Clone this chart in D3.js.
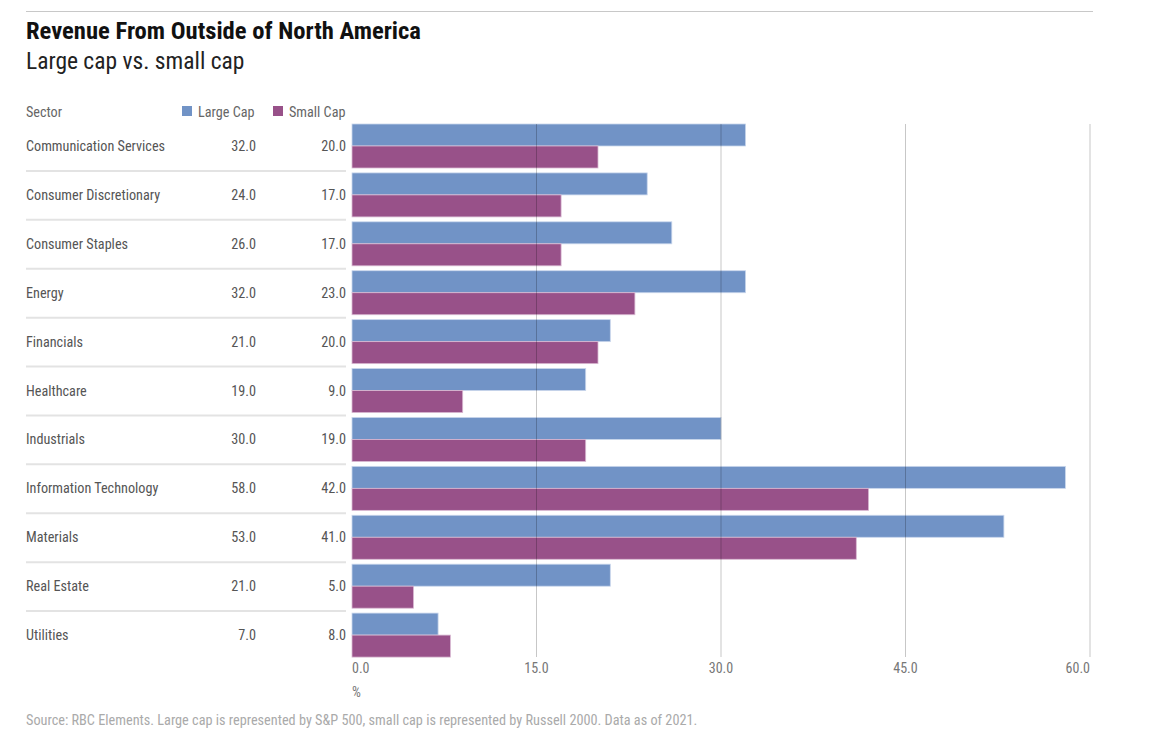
<!DOCTYPE html>
<html><head><meta charset="utf-8">
<script src="https://cdn.jsdelivr.net/npm/d3@7"></script>
<style>
body{margin:0;background:#fff;}
text{font-family:"Liberation Sans Narrow","Roboto Condensed","DejaVu Sans Condensed",sans-serif;}
</style></head>
<body><svg id="c" width="1157" height="735"></svg>
<script>
const categories = ["Communication Services","Consumer Discretionary","Consumer Staples","Energy","Financials","Healthcare","Industrials","Information Technology","Materials","Real Estate","Utilities"];
const largeCap = [32,24,26,32,21,19,30,58,53,21,7];
const smallCap = [20,17,17,23,20,9,19,42,41,5,8];
const xTicks = [0,15,30,45,60];
const seriesNames = ["Large Cap","Small Cap"];
const colors = ["#7193c6","#985189"];

const svg = d3.select("#c");
const x = d3.scaleLinear().domain([0,60]).range([352,1090]);
const y = d3.scaleBand().domain(categories).range([122,660]).padding(0);
const fmt = d3.format(".1f");

svg.append("line").attr("x1",26).attr("x2",1093).attr("y1",11.5).attr("y2",11.5).attr("stroke","#c8c8c8").attr("stroke-width",1);
svg.append("text").attr("x",26).attr("y",39).attr("font-size",24.6).attr("font-weight","bold").attr("fill","#111").text("Revenue From Outside of North America");
svg.append("text").attr("x",26).attr("y",69).attr("font-size",23.5).attr("fill","#222").text("Large cap vs. small cap");

// headers
svg.append("text").attr("x",26).attr("y",117).attr("font-size",14.2).attr("fill","#666").text("Sector");
svg.append("rect").attr("x",182).attr("y",106).attr("width",10).attr("height",10).attr("fill",colors[0]);
svg.append("text").attr("x",198).attr("y",117).attr("font-size",14.2).attr("fill","#666").text(seriesNames[0]);
svg.append("rect").attr("x",273).attr("y",106).attr("width",10).attr("height",10).attr("fill",colors[1]);
svg.append("text").attr("x",289).attr("y",117).attr("font-size",14.2).attr("fill","#666").text(seriesNames[1]);

const bh = 22;
const rows = svg.append("g").selectAll("g").data(categories).join("g");
rows.each(function(c,i){
  const g = d3.select(this);
  const top = y(c)+2;
  g.append("rect").attr("x",x(0)).attr("y",top).attr("width",x(largeCap[i])-x(0)).attr("height",bh).attr("fill",colors[0]).attr("stroke","#c9d6ec").attr("stroke-width",0.8);
  g.append("rect").attr("x",x(0)).attr("y",top+bh).attr("width",x(smallCap[i])-x(0)).attr("height",bh).attr("fill",colors[1]).attr("stroke","#d9b9d2").attr("stroke-width",0.8);
  const ty = top+bh+5;
  g.append("text").attr("x",26).attr("y",ty).attr("font-size",14.2).attr("fill","#555").text(c);
  g.append("text").attr("x",256).attr("y",ty).attr("text-anchor","end").attr("font-size",14.2).attr("fill","#555").text(fmt(largeCap[i]));
  g.append("text").attr("x",346).attr("y",ty).attr("text-anchor","end").attr("font-size",14.2).attr("fill","#555").text(fmt(smallCap[i]));
  if(i<categories.length-1){
    g.append("line").attr("x1",26).attr("x2",346).attr("y1",y(c)+y.bandwidth()).attr("y2",y(c)+y.bandwidth()).attr("stroke","#e3e3e3").attr("stroke-width",2);
  }
});

// gridlines on top
svg.append("g").selectAll("line").data(xTicks.filter(d=>d>0)).join("line")
  .attr("x1",d=>x(d)).attr("x2",d=>x(d)).attr("y1",124).attr("y2",657)
  .attr("stroke","rgba(0,0,0,0.22)").attr("stroke-width",1);

const last = xTicks[xTicks.length-1];
svg.append("g").selectAll("text").data(xTicks).join("text")
  .attr("x",d=>x(d)).attr("y",673).attr("font-size",14).attr("fill","#777")
  .attr("text-anchor",d=>d===0?"start":(d===last?"end":"middle")).text(d=>fmt(d));
svg.append("text").attr("x",352).attr("y",697).attr("font-size",14).attr("fill","#777").text("%");
svg.append("text").attr("x",26).attr("y",725).attr("font-size",14.25).attr("fill","#aaa").text("Source: RBC Elements. Large cap is represented by S&P 500, small cap is represented by Russell 2000. Data as of 2021.");
</script></body></html>
